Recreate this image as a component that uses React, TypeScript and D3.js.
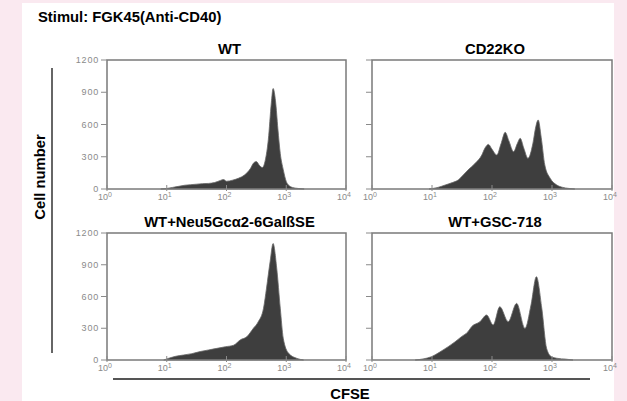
import React, { useEffect, useRef } from 'react';
import * as d3 from 'd3';

// Histogrammes CFSE : [log10(CFSE), nombre de cellules]
const wtData: [number, number][] = [
  [0.9, 0], [1.0, 5], [1.1, 15], [1.2, 25], [1.3, 35], [1.4, 40], [1.5, 45], [1.6, 50],
  [1.7, 52], [1.8, 60], [1.9, 80], [1.95, 88], [2.0, 72], [2.1, 82], [2.2, 100], [2.3, 130],
  [2.4, 190], [2.45, 240], [2.5, 255], [2.55, 220], [2.6, 200], [2.65, 270], [2.7, 460],
  [2.75, 800], [2.78, 935], [2.82, 820], [2.86, 560], [2.9, 330], [2.95, 180], [3.0, 70],
  [3.05, 30], [3.1, 15], [3.2, 5], [3.3, 0],
];

const cd22koData: [number, number][] = [
  [0.95, 0], [1.1, 15], [1.22, 37], [1.34, 60], [1.44, 85], [1.52, 130], [1.6, 177],
  [1.72, 239], [1.83, 316], [1.88, 378], [1.94, 415], [2.0, 370], [2.08, 316], [2.15, 420],
  [2.22, 527], [2.28, 450], [2.36, 347], [2.42, 420], [2.47, 471], [2.53, 380], [2.6, 285],
  [2.68, 420], [2.73, 580], [2.77, 642], [2.82, 480], [2.88, 223], [2.97, 99], [3.08, 37],
  [3.18, 15], [3.27, 6], [3.38, 0],
];

const neu5gcData: [number, number][] = [
  [0.95, 0], [1.05, 20], [1.15, 35], [1.28, 47], [1.42, 60], [1.56, 80], [1.7, 95],
  [1.84, 110], [1.98, 125], [2.12, 140], [2.23, 190], [2.34, 220], [2.45, 300], [2.53, 360],
  [2.62, 490], [2.67, 680], [2.73, 930], [2.78, 1100], [2.84, 870], [2.9, 490], [2.95, 205],
  [3.04, 63], [3.18, 15], [3.29, 0],
];

const gsc718Data: [number, number][] = [
  [0.72, 0], [0.85, 10], [0.99, 31], [1.13, 75], [1.27, 126], [1.38, 170], [1.49, 220],
  [1.6, 268], [1.66, 315], [1.8, 362], [1.91, 425], [2.02, 331], [2.13, 504], [2.27, 362],
  [2.41, 535], [2.55, 299], [2.65, 520], [2.74, 787], [2.83, 488], [2.91, 110], [2.99, 31],
  [3.1, 15], [3.22, 9], [3.35, 0],
];

const panelTitles = ['WT', 'CD22KO', 'WT+Neu5Gcα2-6GalßSE', 'WT+GSC-718'];
const panelData = [wtData, cd22koData, neu5gcData, gsc718Data];
const yTicks = [0, 300, 600, 900, 1200];
const xTicks = [1, 10, 100, 1000, 10000];

export default function App() {
  const ref = useRef<SVGSVGElement>(null);

  useEffect(() => {
    const svg = d3.select(ref.current);
    svg.selectAll('*').remove();

    const W = 627;
    const H = 401;
    const font = 'Liberation Sans, Arial, sans-serif';

    svg.append('rect').attr('width', W).attr('height', H).attr('fill', '#fae9f0');
    svg.append('rect').attr('x', 22).attr('y', 3).attr('width', 592).attr('height', 398).attr('fill', '#ffffff');

    svg.append('text')
      .attr('x', 38).attr('y', 22)
      .attr('font-family', font).attr('font-weight', 'bold').attr('font-size', 14.8)
      .text('Stimul: FGK45(Anti-CD40)');

    const cols = [[107, 346], [372, 612]];
    const rows = [[60, 189], [233, 360]];

    panelData.forEach((data, i) => {
      const [x0, x1] = cols[i % 2];
      const [y0, y1] = rows[Math.floor(i / 2)];

      const x = d3.scaleLog().domain([1, 10000]).range([x0, x1]);
      const y = d3.scaleLinear().domain([0, 1200]).range([y1, y0]);

      const g = svg.append('g');

      // histogramme
      const area = d3.area<[number, number]>()
        .x(d => x(Math.pow(10, d[0])))
        .y0(y(0))
        .y1(d => y(d[1]))
        .curve(d3.curveMonotoneX);

      g.append('path')
        .datum(data)
        .attr('d', area)
        .attr('fill', '#3e3e3e')
        .attr('stroke', '#666')
        .attr('stroke-width', 0.8);

      // cadre
      g.append('rect')
        .attr('x', x0).attr('y', y0)
        .attr('width', x1 - x0).attr('height', y1 - y0)
        .attr('fill', 'none')
        .attr('stroke', '#7a7a7a')
        .attr('stroke-width', 1.5);

      // graduations Y
      g.selectAll('.ytick')
        .data(yTicks)
        .enter()
        .append('line')
        .attr('x1', x0 - 6).attr('x2', x0)
        .attr('y1', d => y(d)).attr('y2', d => y(d))
        .attr('stroke', '#8a8a8a')
        .attr('stroke-width', 1);

      if (i % 2 === 0) {
        g.selectAll('.ylab')
          .data(yTicks)
          .enter()
          .append('text')
          .attr('x', x0 - 8)
          .attr('y', d => y(d) + 3)
          .attr('text-anchor', 'end')
          .attr('font-family', font)
          .attr('font-size', 9)
          .attr('letter-spacing', 0.8)
          .attr('fill', '#8a8a8a')
          .text(d => String(d));
      }

      // graduations X
      g.selectAll('.xtick')
        .data(xTicks)
        .enter()
        .append('line')
        .attr('x1', d => x(d)).attr('x2', d => x(d))
        .attr('y1', y1 - 4).attr('y2', y1 + 2)
        .attr('stroke', '#8a8a8a')
        .attr('stroke-width', 1);

      const lab = g.selectAll('.xlab')
        .data(xTicks)
        .enter()
        .append('text')
        .attr('x', d => x(d) - 2)
        .attr('y', y1 + 11)
        .attr('text-anchor', 'middle')
        .attr('font-family', font)
        .attr('font-size', 9)
        .attr('fill', '#8a8a8a');
      lab.append('tspan').text('10');
      lab.append('tspan')
        .attr('dy', -3)
        .attr('font-size', 7)
        .text(d => String(Math.round(Math.log10(d))));

      // titre du panneau
      svg.append('text')
        .attr('x', (x0 + x1) / 2 + 3)
        .attr('y', y0 - 6)
        .attr('text-anchor', 'middle')
        .attr('font-family', font)
        .attr('font-weight', 'bold')
        .attr('font-size', 14.8)
        .text(panelTitles[i]);
    });

    // axe Y commun
    svg.append('line')
      .attr('x1', 52).attr('x2', 52).attr('y1', 68).attr('y2', 353)
      .attr('stroke', '#333').attr('stroke-width', 1.5);
    svg.append('text')
      .attr('transform', 'translate(45,177) rotate(-90)')
      .attr('text-anchor', 'middle')
      .attr('font-family', font)
      .attr('font-weight', 'bold')
      .attr('font-size', 14.8)
      .text('Cell number');

    // axe X commun
    svg.append('line')
      .attr('x1', 113).attr('x2', 590).attr('y1', 379).attr('y2', 379)
      .attr('stroke', '#555').attr('stroke-width', 2);
    svg.append('text')
      .attr('x', 350).attr('y', 399)
      .attr('text-anchor', 'middle')
      .attr('font-family', font)
      .attr('font-weight', 'bold')
      .attr('font-size', 14.8)
      .text('CFSE');
  }, []);

  return (
    <div style={{ position: 'absolute', left: 0, top: 0 }}>
      <svg ref={ref} width={627} height={401} style={{ display: 'block' }} />
    </div>
  );
}
